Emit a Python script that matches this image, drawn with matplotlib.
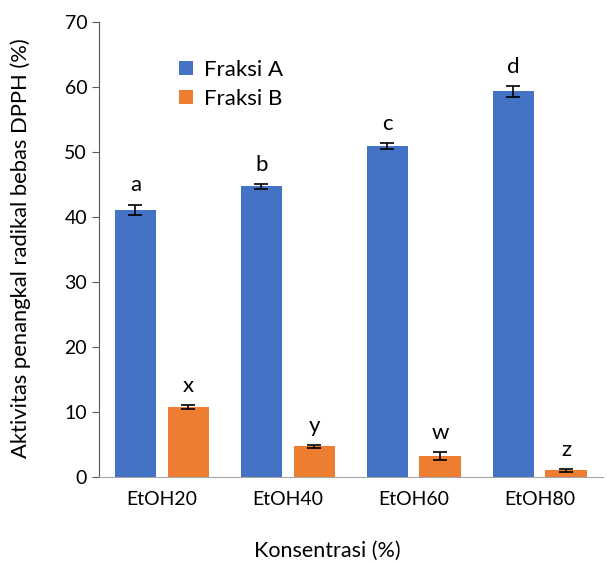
import numpy as np
import matplotlib.pyplot as plt

plt.rcParams['font.family'] = ['Lato', 'DejaVu Sans']

konsentrasi = ['EtOH20', 'EtOH40', 'EtOH60', 'EtOH80']
fraksi_a = [41.1, 44.7, 50.9, 59.3]
fraksi_a_err = [0.8, 0.4, 0.4, 0.85]
fraksi_b = [10.7, 4.7, 3.2, 1.0]
fraksi_b_err = [0.3, 0.2, 0.65, 0.2]
huruf_a = ['a', 'b', 'c', 'd']
huruf_b = ['x', 'y', 'w', 'z']

fig = plt.figure(figsize=(6.07, 5.63), dpi=100)
ax = fig.add_axes([0.163, 0.153, 0.83, 0.808])

x = np.arange(len(konsentrasi))
w = 0.33
off = 0.21
ek = dict(ecolor='black', elinewidth=1.2, capsize=5, capthick=1.2)

ax.bar(x - off, fraksi_a, w, yerr=fraksi_a_err, color='#4472C4', label='Fraksi A', error_kw=ek)
ax.bar(x + off, fraksi_b, w, yerr=fraksi_b_err, color='#ED7D31', label='Fraksi B', error_kw=ek)

# huruf notasi di atas error bar
for i in range(len(x)):
    ax.text(x[i] - off, fraksi_a[i] + fraksi_a_err[i] + 1.4, huruf_a[i], ha='center', va='bottom', fontsize=16)
    ax.text(x[i] + off, fraksi_b[i] + fraksi_b_err[i] + 1.4, huruf_b[i], ha='center', va='bottom', fontsize=16)

ax.set_xlim(-0.5, 3.5)
ax.set_ylim(0, 70)
ax.set_yticks(range(0, 71, 10))
ax.set_xticks(x)
ax.set_xticklabels(konsentrasi)
ax.tick_params(axis='x', length=0, labelsize=14, pad=10)
ax.tick_params(axis='y', length=5, labelsize=14, color='#595959')

for s in ['top', 'right']:
    ax.spines[s].set_visible(False)
ax.spines['left'].set_color('#595959')
ax.spines['bottom'].set_color('#A6A6A6')

ax.set_ylabel('Aktivitas penangkal radikal bebas DPPH (%)', fontsize=15.8)
ax.set_xlabel('Konsentrasi (%)', fontsize=15.5)
ax.yaxis.set_label_coords(-0.135, 0.503)
ax.xaxis.set_label_coords(0.454, -0.14)

ax.legend(loc='upper left', bbox_to_anchor=(0.12, 0.96), frameon=False, fontsize=16,
          handlelength=0.6, handleheight=0.6, handletextpad=0.5, labelspacing=0.4)

plt.savefig('out.png')
